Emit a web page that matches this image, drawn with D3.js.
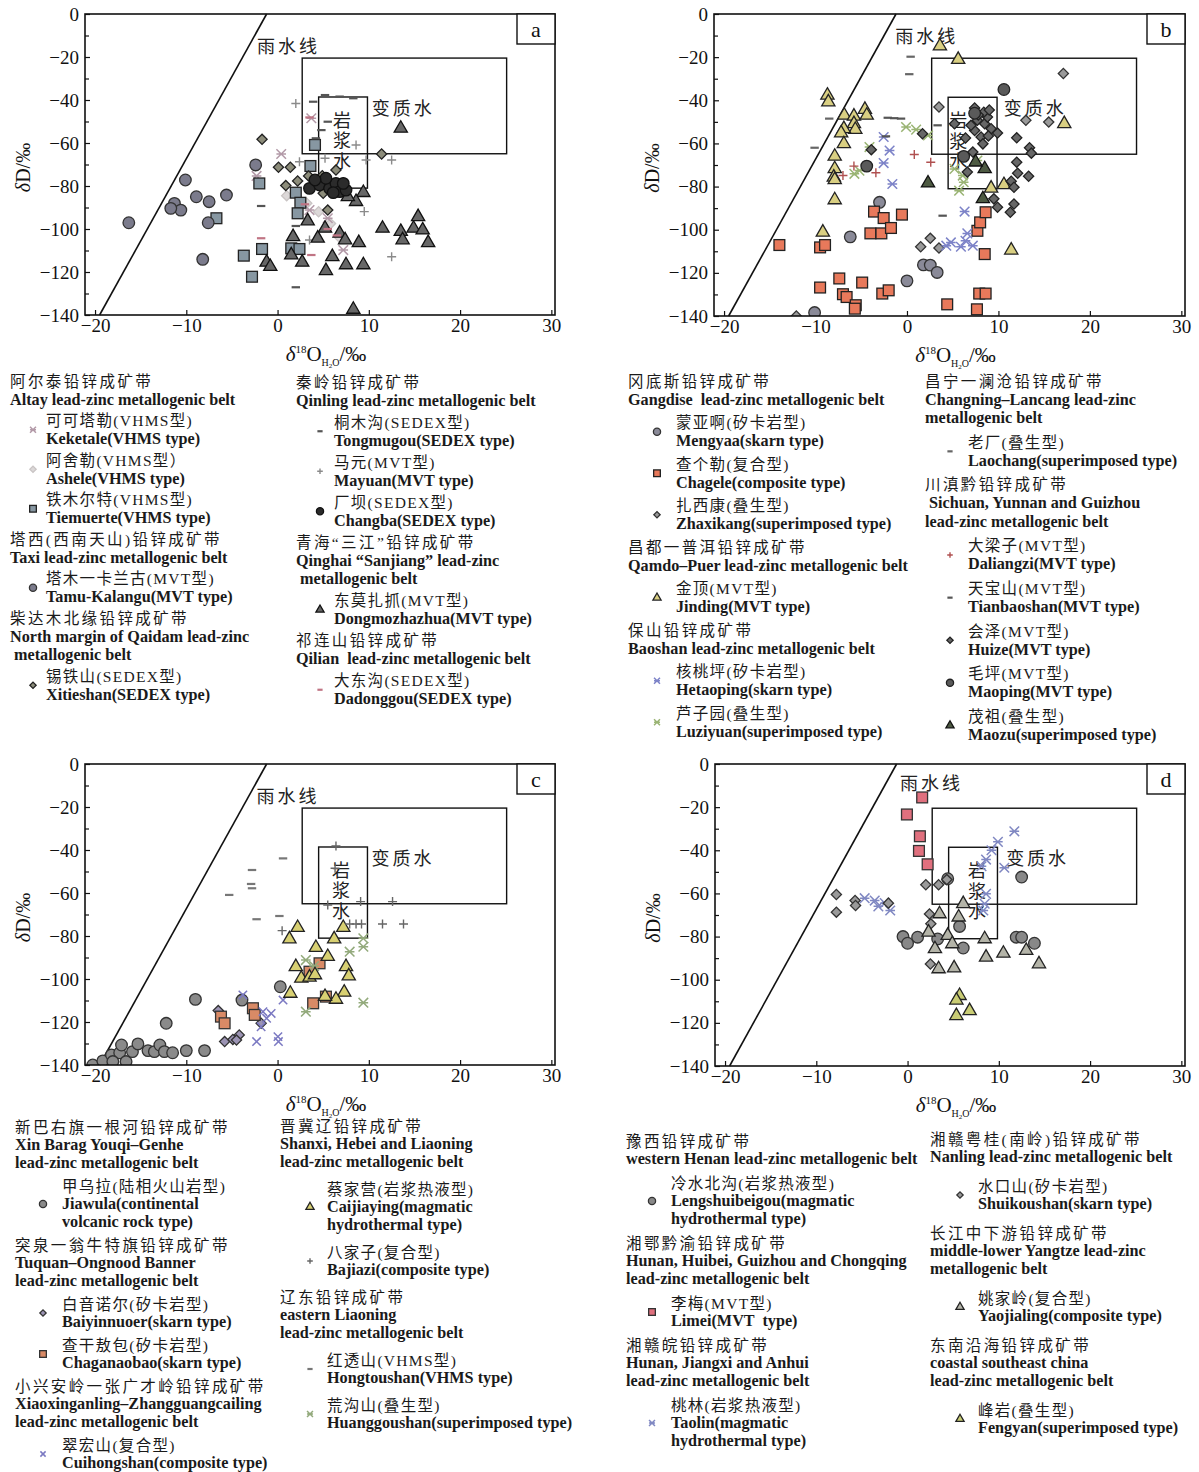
<!DOCTYPE html>
<html><head><meta charset="utf-8">
<script src="https://cdn.jsdelivr.net/npm/d3@7"></script>
<style>body{margin:0;background:#fff}svg{display:block}</style>
</head><body><svg id="chart" width="1199" height="1472"></svg>
<script>
// ---------- axes ----------
const xTickValues = [-20, -10, 0, 10, 20, 30];
const xTickLabels = ['−20', '−10', '0', '10', '20', '30'];
const yTickValues = [0, -20, -40, -60, -80, -100, -120, -140];
const yTickLabels = ['0', '−20', '−40', '−60', '−80', '−100', '−120', '−140'];
const yMinorTickValues = [-10, -30, -50, -70, -90, -110, -130];
const xDomain = [-21.1, 30.4];
const yDomain = [-140, 0];

// ---------- reference fields ----------
const meteoricLine = [[-19.5, -140], [-1.2, 0]];
const metamorphicBox = [2.7, 25.1, -65, -20.5];
const magmaticBox = [4.5, 9.85, -81, -38.6];
const panelLetters = ['a', 'b', 'c', 'd'];

// ---------- panel a ----------
const keketale = [[0.4,-65.1],[3.7,-48.5],[-2.3,-75.3],[3.5,-91.2],[7.2,-109.8],[5.5,-95]];
const ashele = [[5.8,-97.5],[3.2,-88],[6.8,-104],[1.0,-84.5],[4.5,-92]];
const tiemuerte = [[-6.7,-95],[-2.0,-78.8],[-3.7,-112.4],[-1.7,-109.3],[-2.8,-122.2],[2.0,-83.1],[2.5,-87.8],[2.2,-92.7],[3.6,-70.7],[4.1,-60.9],[1.5,-109],[2.4,-109.3]];
const tamuKalangu = [[-16.3,-97.1],[-10.1,-77.2],[-11.3,-88.1],[-10.6,-91.2],[-11.7,-90.4],[-8.9,-85],[-7.5,-87.3],[-5.6,-84.2],[-7.6,-97.1],[-8.2,-114.1],[-2.4,-70.2]];
const xitieshan = [[-1.7,-58.3],[0.1,-71.3],[1.4,-71.3],[0.9,-79.8],[2.2,-77.7],[3.4,-75.3],[4.9,-75.2],[6.4,-72.6],[5.0,-83.4],[5.5,-91.2],[11.4,-65.1]];
const tongmugou = [[5.2,-37.7],[6.8,-38.4],[8.3,-39.2],[3.9,-40.8],[5.5,-50.1],[4.8,-54],[4.2,-57.8],[-1.8,-89.3],[2.0,-127.1],[2.0,-98.6]];
const mayuan = [[2.0,-41.6],[8.6,-60.9],[5.2,-67.1],[9.7,-67.9],[12.5,-67.9],[2.4,-68.7],[9.5,-91.9],[12.5,-112.9],[3.5,-105.1]];
const changba = [[3.5,-81.1],[4.6,-79.5],[5.7,-81.1],[6.4,-78.8],[6.8,-82.6],[7.5,-81.9],[5.3,-76.4],[4.1,-77.2],[6.1,-83.1],[7.2,-78.8]];
const dongmozhazhua = [[13.5,-53.2],[9.4,-83.1],[8.6,-87.3],[7.7,-85],[11.5,-99.7],[13.5,-101.2],[13.7,-105.1],[14.9,-99.7],[15.4,-94.3],[15.9,-100.5],[16.5,-106.4],[3.3,-96.3],[5.2,-99.7],[6.8,-102],[7.4,-105.1],[8.9,-106.4],[1.7,-103.6],[2.7,-115.5],[-1.2,-115.5],[-0.8,-117.5],[1.5,-112.1],[5.3,-119.4],[7.5,-116.7],[9.4,-116.7],[6.0,-112.9],[8.3,-137.4],[4.4,-104.3]];
const dadonggou = [[3.5,-48.1],[-1.8,-104.3],[3.7,-112.1],[5.5,-100],[3.0,-88.5],[6.5,-103]];

// ---------- panel b ----------
const mengyaa = [[-6.2,-103.3],[-3.0,-87.3],[1.8,-116.3],[2.55,-116.4],[3.3,-119.8],[0,-123.7],[-10.1,-138.4]];
const chagele = [[-13.95,-107.1],[-9.5,-108.2],[-8.96,-107.1],[-9.5,-126.8],[-7.4,-122.6],[-7.0,-129.9],[-6.6,-131.2],[-5.6,-135],[-5.7,-136.6],[-4.9,-124.5],[-4.0,-101.7],[-2.8,-101.7],[-3.6,-91.6],[-2.55,-94.6],[-1.75,-99.2],[-0.55,-93],[-2.7,-129.6],[-2.0,-128.1],[4.4,-134.6],[7.65,-136.9],[7.9,-129.6],[8.6,-129.6],[7.7,-100.5],[8.0,-96.6],[8.6,-91.9],[8.5,-111.3]];
const zhaxikang = [[3.5,-43.1],[1.5,-107.9],[2.55,-104],[3.5,-108.5],[-12.1,-140],[17.1,-27.6],[13.0,-49.3],[15.5,-50.1]];
const jinding = [[-8.7,-37.7],[-8.6,-40.8],[-6.85,-47],[-5.8,-47.4],[-4.6,-44.3],[-4.4,-47],[-5.8,-50.9],[-5.65,-53.6],[-6.9,-53.2],[-7.2,-55.2],[-6.9,-60.2],[-7.9,-66],[-7.9,-71.8],[-8.0,-75.7],[-7.9,-76.9],[-7.9,-86.2],[-9.2,-101.2],[3.6,-14.9],[5.6,-21.1],[17.2,-50.9],[11.4,-109.5],[9.2,-80.8],[10.6,-79.2]];
const hetaoping = [[-1.9,-63.3],[-2.55,-69.1],[-1.6,-78.8],[6.3,-91.6],[4.3,-107.4],[4.8,-105.9],[6.4,-105.1],[7.2,-107.4],[5.9,-107.9],[6.6,-101.7],[-2.55,-57]];
const luziyuan = [[-5.75,-74.1],[-5.2,-72.6],[-4.1,-61.7],[-0.1,-52.4],[1.0,-53.6],[2.3,-56.3],[5.2,-71.8],[6.1,-74.9],[5.7,-81.9],[7.7,-67.9],[6.2,-78]];
const laochang = [[0.4,-19.8],[0.25,-27.9],[-10.1,-62],[-8.5,-48.5]];
const daliangzi = [[-5.8,-70.5],[-3.4,-73.6],[0.8,-65.1],[2.6,-68.7],[-7.0,-74.9]];
const tianbaoshan = [[-2.1,-48.1],[-0.65,-48.5],[3.35,-51.6],[3.9,-93.5],[-2.3,-56.7],[-1.4,-48.3]];
const huize = [[9.9,-55.2],[12.0,-57.4],[13.4,-62],[13.6,-64.5],[12.0,-68.7],[12.1,-73.8],[13.3,-75.2],[11.4,-77.5],[11.7,-80.3],[9.5,-85.7],[9.9,-89.6],[11.7,-88.1],[11.3,-91.9],[7.4,-43.6],[7.7,-49.3],[8.5,-50.9],[7.4,-54],[8.1,-57],[8.8,-47.8],[9.2,-53.2],[7.0,-51.6],[8.3,-60.2],[7.2,-64],[6.6,-73.3],[5.2,-50.9],[-3.9,-62.9],[1.7,-55.5],[8.4,-45.5],[9.0,-44.5],[7.8,-46.8],[8.9,-56.5],[6.4,-57.5]];
const maoping = [[-4.4,-70.5],[10.6,-35],[7.4,-46],[6.2,-66]];
const maozu = [[2.3,-78.4],[8.3,-85.7],[8.5,-71.8],[7.5,-68.7]];

// ---------- panel c ----------
const jiawula = [[-20.25,-140],[-19.15,-138.1],[-18.2,-135.3],[-17.3,-134.3],[-17.1,-130.7],[-18.05,-138.4],[-16.6,-138.4],[-15.9,-133.8],[-15.3,-130.2],[-14.2,-133.3],[-13.5,-133.8],[-12.9,-130.7],[-12.4,-133.8],[-11.5,-134.3],[-12.2,-120.6],[-10.0,-133.3],[-8.0,-133.3],[-9.0,-109.5],[-3.9,-109.8],[0.3,-103.6]];
const baiyinnuoer = [[-5.8,-129.1],[-4.9,-128.1],[-4.2,-126],[-4.5,-128.4],[-6.5,-114.7],[-1.8,-120.6]];
const chaganaobao = [[-6.2,-117.5],[-5.8,-120.6],[-2.7,-113.6],[-2.5,-116.7],[3.9,-111.3],[5.3,-108.2],[4.6,-92.7],[3.5,-96.6]];
const cuihongshan = [[-3.8,-107.4],[-2.3,-129.1],[0.04,-126.8],[0.1,-129.1],[-0.7,-116],[-1.2,-118.3],[-1.8,-122.2],[0.6,-109.8],[-1.6,-115.2]];
const caijiaying = [[2.2,-76.1],[1.3,-81.4],[4.2,-85.4],[5.5,-89.6],[6.2,-81.4],[7.2,-76.1],[2.0,-94.3],[2.6,-99.7],[3.5,-99.2],[4.1,-98.1],[7.5,-94.3],[7.8,-98.6],[1.4,-106.7],[7.3,-106.2],[6.4,-109.5],[5.2,-108.2]];
const bajiazi = [[6.4,-38.1],[6.3,-48.5],[5.5,-65.6],[9.1,-64],[12.6,-64],[0.5,-77.5],[7.9,-74.4],[9.2,-74.4],[11.5,-74.4],[13.8,-74.4],[8.6,-74.4]];
const hongtoushan = [[0.6,-43.9],[-2.8,-49.3],[-2.9,-55.8],[-2.8,-57.8],[-5.3,-60.9],[-2.3,-72.2],[0.2,-70.7]];
const huanggoushan = [[7.9,-87.3],[9.4,-85],[9.4,-81.1],[9.4,-111],[3.1,-115.2],[3.1,-91.2],[4.0,-94]];

// ---------- panel d ----------
const lengshuibeigou = [[12.5,-52.4],[-0.5,-80],[0,-83.1],[1.1,-80.3],[3.3,-81.1],[5.7,-75.3],[6.1,-85.3],[11.9,-80.3],[12.5,-80.3],[13.9,-83.1],[4.4,-53.2]];
const limei = [[1.6,-15.5],[-0.07,-23.4],[1.35,-33.5],[1.25,-40.3],[2.2,-46.5]];
const taolin = [[-4.7,-62.2],[-3.6,-63.3],[-3.2,-66],[-2.5,-64.5],[-1.9,-67.9],[11.7,-31.2],[9.9,-36.1],[9.2,-40],[8.6,-44.3],[8.1,-47.4],[10.6,-48.1],[8.6,-60.2],[8.45,-64.8],[8.3,-67.9]];
const shuikoushan = [[-7.8,-60.5],[-7.8,-68.7],[-5.75,-63.3],[-5.7,-65.6],[-2.1,-64.5],[2.0,-56],[3.4,-56],[4.3,-53.6],[2.4,-69.5],[2.55,-74.1],[2.5,-92.7]];
const yaojialing = [[3.5,-69.5],[2.3,-78],[4.4,-79.5],[4.9,-83.4],[3.0,-85.7],[3.4,-95],[5.1,-94.6],[6.1,-64.8],[5.6,-71],[8.45,-81.1],[8.6,-89.6],[10.5,-87.8],[13.0,-86.5],[14.4,-92.7]];
const fengyan = [[5.7,-107.4],[5.35,-109.5],[5.35,-116.7],[6.8,-114.4]];

// ---------- legend texts ----------
const legendA1 = [
  {key:null, lines:['阿尔泰铅锌成矿带','Altay lead-zinc metallogenic belt']},
  {key:'keketale', lines:['可可塔勒(VHMS型)','Keketale(VHMS type)']},
  {key:'ashele', lines:['阿舍勒(VHMS型）','Ashele(VHMS type)']},
  {key:'tiemuerte', lines:['铁木尔特(VHMS型)','Tiemuerte(VHMS type)']},
  {key:null, lines:['塔西(西南天山)铅锌成矿带','Taxi lead-zinc metallogenic belt']},
  {key:'tamuKalangu', lines:['塔木一卡兰古(MVT型)','Tamu-Kalangu(MVT type)']},
  {key:null, lines:['柴达木北缘铅锌成矿带','North margin of Qaidam lead-zinc',' metallogenic belt']},
  {key:'xitieshan', lines:['锡铁山(SEDEX型)','Xitieshan(SEDEX type)']}
];
const legendA2 = [
  {key:null, lines:['秦岭铅锌成矿带','Qinling lead-zinc metallogenic belt']},
  {key:'tongmugou', lines:['桐木沟(SEDEX型)','Tongmugou(SEDEX type)']},
  {key:'mayuan', lines:['马元(MVT型)','Mayuan(MVT type)']},
  {key:'changba', lines:['厂坝(SEDEX型)','Changba(SEDEX type)']},
  {key:null, lines:['青海“三江”铅锌成矿带','Qinghai “Sanjiang” lead-zinc',' metallogenic belt']},
  {key:'dongmozhazhua', lines:['东莫扎抓(MVT型)','Dongmozhazhua(MVT type)']},
  {key:null, lines:['祁连山铅锌成矿带','Qilian  lead-zinc metallogenic belt']},
  {key:'dadonggou', lines:['大东沟(SEDEX型)','Dadonggou(SEDEX type)']}
];
const legendB1 = [
  {key:null, lines:['冈底斯铅锌成矿带','Gangdise  lead-zinc metallogenic belt']},
  {key:'mengyaa', lines:['蒙亚啊(矽卡岩型)','Mengyaa(skarn type)']},
  {key:'chagele', lines:['查个勒(复合型)','Chagele(composite type)']},
  {key:'zhaxikang', lines:['扎西康(叠生型)','Zhaxikang(superimposed type)']},
  {key:null, lines:['昌都一普洱铅锌成矿带','Qamdo–Puer lead-zinc metallogenic belt']},
  {key:'jinding', lines:['金顶(MVT型)','Jinding(MVT type)']},
  {key:null, lines:['保山铅锌成矿带','Baoshan lead-zinc metallogenic belt']},
  {key:'hetaoping', lines:['核桃坪(矽卡岩型)','Hetaoping(skarn type)']},
  {key:'luziyuan', lines:['芦子园(叠生型)','Luziyuan(superimposed type)']}
];
const legendB2 = [
  {key:null, lines:['昌宁一澜沧铅锌成矿带','Changning–Lancang lead-zinc','metallogenic belt']},
  {key:'laochang', lines:['老厂(叠生型)','Laochang(superimposed type)']},
  {key:null, lines:['川滇黔铅锌成矿带',' Sichuan, Yunnan and Guizhou','lead-zinc metallogenic belt']},
  {key:'daliangzi', lines:['大梁子(MVT型)','Daliangzi(MVT type)']},
  {key:'tianbaoshan', lines:['天宝山(MVT型)','Tianbaoshan(MVT type)']},
  {key:'huize', lines:['会泽(MVT型)','Huize(MVT type)']},
  {key:'maoping', lines:['毛坪(MVT型)','Maoping(MVT type)']},
  {key:'maozu', lines:['茂祖(叠生型)','Maozu(superimposed type)']}
];
const legendC1 = [
  {key:null, lines:['新巴右旗一根河铅锌成矿带','Xin Barag Youqi–Genhe','lead-zinc metallogenic belt']},
  {key:'jiawula', lines:['甲乌拉(陆相火山岩型)','Jiawula(continental','volcanic rock type)']},
  {key:null, lines:['突泉一翁牛特旗铅锌成矿带','Tuquan–Ongnood Banner','lead-zinc metallogenic belt']},
  {key:'baiyinnuoer', lines:['白音诺尔(矽卡岩型)','Baiyinnuoer(skarn type)']},
  {key:'chaganaobao', lines:['查干敖包(矽卡岩型)','Chaganaobao(skarn type)']},
  {key:null, lines:['小兴安岭一张广才岭铅锌成矿带','Xiaoxinganling–Zhangguangcailing','lead-zinc metallogenic belt']},
  {key:'cuihongshan', lines:['翠宏山(复合型)','Cuihongshan(composite type)']}
];
const legendC2 = [
  {key:null, lines:['晋冀辽铅锌成矿带','Shanxi, Hebei and Liaoning','lead-zinc metallogenic belt']},
  {key:'caijiaying', lines:['蔡家营(岩浆热液型)','Caijiaying(magmatic','hydrothermal type)']},
  {key:'bajiazi', lines:['八家子(复合型)','Bajiazi(composite type)']},
  {key:null, lines:['辽东铅锌成矿带','eastern Liaoning','lead-zinc metallogenic belt']},
  {key:'hongtoushan', lines:['红透山(VHMS型)','Hongtoushan(VHMS type)']},
  {key:'huanggoushan', lines:['荒沟山(叠生型)','Huanggoushan(superimposed type)']}
];
const legendD1 = [
  {key:null, lines:['豫西铅锌成矿带','western Henan lead-zinc metallogenic belt']},
  {key:'lengshuibeigou', lines:['冷水北沟(岩浆热液型)','Lengshuibeigou(magmatic','hydrothermal type)']},
  {key:null, lines:['湘鄂黔渝铅锌成矿带','Hunan, Huibei, Guizhou and Chongqing','lead-zinc metallogenic belt']},
  {key:'limei', lines:['李梅(MVT型)','Limei(MVT  type)']},
  {key:null, lines:['湘赣皖铅锌成矿带','Hunan, Jiangxi and Anhui','lead-zinc metallogenic belt']},
  {key:'taolin', lines:['桃林(岩浆热液型)','Taolin(magmatic','hydrothermal type)']}
];
const legendD2 = [
  {key:null, lines:['湘赣粤桂(南岭)铅锌成矿带','Nanling lead-zinc metallogenic belt']},
  {key:'shuikoushan', lines:['水口山(矽卡岩型)','Shuikoushan(skarn type)']},
  {key:null, lines:['长江中下游铅锌成矿带','middle-lower Yangtze lead-zinc','metallogenic belt']},
  {key:'yaojialing', lines:['姚家岭(复合型)','Yaojialing(composite type)']},
  {key:null, lines:['东南沿海铅锌成矿带','coastal southeast china','lead-zinc metallogenic belt']},
  {key:'fengyan', lines:['峰岩(叠生型)','Fengyan(superimposed type)']}
];

// ---------- styles ----------
const STY = {
  keketale:{shape:'asterisk', stroke:'#b39aa8', fill:'none'},
  ashele:{shape:'diamond', stroke:'#c9c4c4', fill:'#dcd8d8'},
  tiemuerte:{shape:'square', stroke:'#222', fill:'#8797a2'},
  tamuKalangu:{shape:'circle', stroke:'#333', fill:'#7b7b8c'},
  xitieshan:{shape:'diamond', stroke:'#222', fill:'#8c8c7a'},
  tongmugou:{shape:'dash', stroke:'#555'},
  mayuan:{shape:'plus', stroke:'#8a8a8a'},
  changba:{shape:'circle', stroke:'#111', fill:'#2b2b2b'},
  dongmozhazhua:{shape:'triangle', stroke:'#111', fill:'#676767'},
  dadonggou:{shape:'dash', stroke:'#c07484'},
  mengyaa:{shape:'circle', stroke:'#333', fill:'#8a8a98'},
  chagele:{shape:'square', stroke:'#222', fill:'#e8795b'},
  zhaxikang:{shape:'diamond', stroke:'#333', fill:'#9a9a9a'},
  jinding:{shape:'triangle', stroke:'#222', fill:'#d9cf82'},
  hetaoping:{shape:'asterisk', stroke:'#7d83c8'},
  luziyuan:{shape:'asterisk', stroke:'#9ab474'},
  laochang:{shape:'dash', stroke:'#666'},
  daliangzi:{shape:'plus', stroke:'#b05050'},
  tianbaoshan:{shape:'dash', stroke:'#555'},
  huize:{shape:'diamond', stroke:'#222', fill:'#676767'},
  maoping:{shape:'circle', stroke:'#222', fill:'#5a5a5a'},
  maozu:{shape:'triangle', stroke:'#111', fill:'#4d5a42'},
  jiawula:{shape:'circle', stroke:'#333', fill:'#8a8a8a'},
  baiyinnuoer:{shape:'diamond', stroke:'#333', fill:'#9c94b4'},
  chaganaobao:{shape:'square', stroke:'#333', fill:'#d98a66'},
  cuihongshan:{shape:'x', stroke:'#7b79c2'},
  caijiaying:{shape:'triangle', stroke:'#222', fill:'#d8d072'},
  bajiazi:{shape:'plus', stroke:'#666'},
  hongtoushan:{shape:'dash', stroke:'#777'},
  huanggoushan:{shape:'asterisk', stroke:'#93aa7c'},
  lengshuibeigou:{shape:'circle', stroke:'#333', fill:'#888'},
  limei:{shape:'square', stroke:'#333', fill:'#e0707e'},
  taolin:{shape:'asterisk', stroke:'#8088c2'},
  shuikoushan:{shape:'diamond', stroke:'#333', fill:'#9a9a9a'},
  yaojialing:{shape:'triangle', stroke:'#222', fill:'#b4b4a8'},
  fengyan:{shape:'triangle', stroke:'#222', fill:'#c9cc74'}
};
const DATA = {keketale, ashele, tiemuerte, tamuKalangu, xitieshan, tongmugou, mayuan, changba, dongmozhazhua, dadonggou,
  mengyaa, chagele, zhaxikang, jinding, hetaoping, luziyuan, laochang, daliangzi, tianbaoshan, huize, maoping, maozu,
  jiawula, baiyinnuoer, chaganaobao, cuihongshan, caijiaying, bajiazi, hongtoushan, huanggoushan,
  lengshuibeigou, limei, taolin, shuikoushan, yaojialing, fengyan};

const svg = d3.select('#chart');
const SERIF = '"Liberation Serif","Times New Roman",serif';
const CJK = '"Noto Sans CJK SC","Noto Sans CJK JP",sans-serif';

function marker(g, key, cx, cy, k) {
  const st = STY[key];
  const gg = g.append('g').attr('transform', `translate(${cx},${cy})`);
  const sw = 1.3;
  switch (st.shape) {
    case 'circle':
      gg.append('circle').attr('r', 5.8 * k).attr('fill', st.fill).attr('stroke', st.stroke).attr('stroke-width', sw); break;
    case 'square':
      gg.append('rect').attr('x', -5.4 * k).attr('y', -5.4 * k).attr('width', 10.8 * k).attr('height', 10.8 * k)
        .attr('fill', st.fill).attr('stroke', st.stroke).attr('stroke-width', sw); break;
    case 'triangle':
      gg.append('path').attr('d', d3.symbol(d3.symbolTriangle, 76 * k * k)()).attr('fill', st.fill).attr('stroke', st.stroke).attr('stroke-width', sw); break;
    case 'diamond':
      gg.append('path').attr('d', d3.symbol(d3.symbolSquare, 52 * k * k)()).attr('transform', 'rotate(45)')
        .attr('fill', st.fill).attr('stroke', st.stroke).attr('stroke-width', sw); break;
    case 'plus': {
      const r = 4.5 * k;
      gg.append('path').attr('d', `M${-r},0H${r}M0,${-r}V${r}`).attr('stroke', st.stroke).attr('stroke-width', 1.4); break; }
    case 'dash': {
      const r = 4.2 * k;
      gg.append('path').attr('d', `M${-r},0H${r}`).attr('stroke', st.stroke).attr('stroke-width', 2.2); break; }
    case 'x': {
      const r = 4.2 * k;
      gg.append('path').attr('d', `M${-r},${-r}L${r},${r}M${-r},${r}L${r},${-r}`).attr('stroke', st.stroke).attr('stroke-width', 1.5); break; }
    case 'asterisk': {
      const r = 4.8 * k;
      gg.append('path').attr('d', `M${-r},${-r}L${r},${r}M${-r},${r}L${r},${-r}M${-r},0H${r}`)
        .attr('stroke', st.stroke).attr('stroke-width', 1.5); break; }
  }
}

const panels = [
  {letter:'a', left:85, right:555, top:14, bottom:315, series:['ashele','keketale','tiemuerte','tamuKalangu','xitieshan','tongmugou','mayuan','dongmozhazhua','changba','dadonggou'],
   rain:[-2.26,-14.4], meta:[10.33,-43.3], magma:7.05},
  {letter:'b', left:714, right:1185, top:14, bottom:316, series:['mengyaa','chagele','zhaxikang','jinding','hetaoping','luziyuan','laochang','daliangzi','tianbaoshan','huize','maoping','maozu'],
   rain:[-1.28,-9.8], meta:[10.59,-43.1], magma:5.62},
  {letter:'c', left:85, right:555, top:764, bottom:1065, series:['jiawula','baiyinnuoer','chaganaobao','cuihongshan','huanggoushan','caijiaying','bajiazi','hongtoushan'],
   rain:[-2.3,-14.4], meta:[10.3,-43.1], magma:6.95},
  {letter:'d', left:715, right:1185, top:764, bottom:1066, series:['lengshuibeigou','limei','taolin','shuikoushan','yaojialing','fengyan'],
   rain:[-0.84,-8.2], meta:[10.8,-43.1], magma:7.6}
];

panels.forEach(p => {
  const x = d3.scaleLinear().domain(xDomain).range([p.left, p.right]);
  const y = d3.scaleLinear().domain(yDomain).range([p.bottom, p.top]);
  const g = svg.append('g');
  const clipId = 'clip' + p.letter;
  svg.append('clipPath').attr('id', clipId).append('rect')
    .attr('x', p.left).attr('y', p.top).attr('width', p.right - p.left).attr('height', p.bottom - p.top);

  // axes (inward ticks)
  const yAx = d3.axisLeft(y).tickValues(yTickValues).tickFormat((d, i) => yTickLabels[i]).tickSizeInner(-5).tickSizeOuter(0).tickPadding(6);
  const yAxMinor = d3.axisLeft(y).tickValues(yMinorTickValues).tickFormat('').tickSizeInner(-4).tickSizeOuter(0);
  const xAx = d3.axisBottom(x).tickValues(xTickValues).tickFormat((d, i) => xTickLabels[i]).tickSizeInner(-5).tickSizeOuter(0).tickPadding(4);
  [g.append('g').attr('transform', `translate(${p.left},0)`).call(yAx),
   g.append('g').attr('transform', `translate(${p.left},0)`).call(yAxMinor),
   g.append('g').attr('transform', `translate(0,${p.bottom})`).call(xAx)].forEach(a => {
    a.select('.domain').remove();
    a.selectAll('line').attr('stroke', '#111').attr('stroke-width', 1.2);
    a.selectAll('text').attr('fill', '#111').style('font-family', SERIF).style('font-size', '19px');
  });

  // axis titles
  const yt = g.append('text').attr('transform', `translate(${p.left - 55},${(p.top + p.bottom) / 2 + 3}) rotate(-90)`)
    .attr('text-anchor', 'middle').style('font-family', SERIF).style('font-size', '20px').attr('fill', '#111');
  yt.append('tspan').style('font-style', 'italic').text('δ');
  yt.append('tspan').text('D/‰');
  const xt = g.append('text').attr('x', (p.left + p.right) / 2 + 6).attr('y', p.bottom + 46)
    .attr('text-anchor', 'middle').style('font-family', SERIF).style('font-size', '21px').attr('fill', '#111');
  xt.append('tspan').style('font-style', 'italic').text('δ');
  xt.append('tspan').attr('dy', -8).style('font-size', '11px').text('18');
  xt.append('tspan').attr('dy', 8).text('O');
  xt.append('tspan').attr('dy', 5).style('font-size', '10px').text('H');
  xt.append('tspan').attr('dy', 2).style('font-size', '7px').text('2');
  xt.append('tspan').attr('dy', -2).style('font-size', '10px').text('O');
  xt.append('tspan').attr('dy', -5).text('/‰');

  // boxes
  g.append('rect').attr('x', x(metamorphicBox[0])).attr('y', y(metamorphicBox[3]))
    .attr('width', x(metamorphicBox[1]) - x(metamorphicBox[0])).attr('height', y(metamorphicBox[2]) - y(metamorphicBox[3]))
    .attr('fill', 'none').attr('stroke', '#111').attr('stroke-width', 1.4);
  g.append('rect').attr('x', x(magmaticBox[0])).attr('y', y(magmaticBox[3]))
    .attr('width', x(magmaticBox[1]) - x(magmaticBox[0])).attr('height', y(magmaticBox[2]) - y(magmaticBox[3]))
    .attr('fill', 'none').attr('stroke', '#111').attr('stroke-width', 1.4);

  // annotations
  const ann = (t, xx, yy) => g.append('text').attr('x', xx).attr('y', yy).attr('dominant-baseline', 'central')
    .style('font-family', CJK).style('font-size', '18px').style('letter-spacing', '3px').attr('fill', '#222').text(t);
  ann('雨水线', x(p.rain[0]), y(p.rain[1]));
  ann('变质水', x(p.meta[0]), y(p.meta[1]));
  g.append('text').attr('x', x(p.magma)).attr('y', y(-49.3) - 9)
    .style('writing-mode', 'vertical-rl').style('glyph-orientation-vertical', '0')
    .style('font-family', CJK).style('font-size', '18px').style('letter-spacing', '2.5px').attr('fill', '#222').text('岩浆水');

  // meteoric water line
  g.append('line').attr('x1', x(meteoricLine[0][0])).attr('y1', y(meteoricLine[0][1]))
    .attr('x2', x(meteoricLine[1][0])).attr('y2', y(meteoricLine[1][1])).attr('stroke', '#111').attr('stroke-width', 1.6);

  // points
  const pg = g.append('g').attr('clip-path', `url(#${clipId})`);
  p.series.forEach(key => DATA[key].forEach(d => marker(pg, key, x(d[0]), y(d[1]), 1)));

  // frame
  g.append('rect').attr('x', p.left).attr('y', p.top).attr('width', p.right - p.left).attr('height', p.bottom - p.top)
    .attr('fill', 'none').attr('stroke', '#111').attr('stroke-width', 1.6);
  // letter box
  g.append('rect').attr('x', p.right - 38).attr('y', p.top).attr('width', 38).attr('height', 30)
    .attr('fill', '#fff').attr('stroke', '#111').attr('stroke-width', 1.4);
  g.append('text').attr('x', p.right - 19).attr('y', p.top + 15).attr('text-anchor', 'middle').attr('dominant-baseline', 'central')
    .style('font-family', SERIF).style('font-size', '22px').attr('fill', '#111').text(p.letter);
});

// ---------- legends ----------
const legendCols = [
  {items:legendA1, x:10, tx:46, sx:33, y0:381, lh:18.5, gap:2.5},
  {items:legendA2, x:296, tx:334, sx:320, y0:382, lh:18.5, gap:3},
  {items:legendB1, x:628, tx:676, sx:657, y0:381, lh:18.5, gap:4.5},
  {items:legendB2, x:925, tx:968, sx:950, y0:381, lh:18.5, gap:5.6},
  {items:legendC1, x:15, tx:62, sx:43, y0:1127, lh:18, gap:5},
  {items:legendC2, x:280, tx:327, sx:310, y0:1126, lh:18, gap:9},
  {items:legendD1, x:626, tx:671, sx:652, y0:1141, lh:18, gap:6},
  {items:legendD2, x:930, tx:978, sx:960, y0:1139, lh:18, gap:11}
];
const isCJK = s => /[\u4e00-\u9fff]/.test(s);
legendCols.forEach(col => {
  const g = svg.append('g');
  let yy = col.y0;
  col.items.forEach(it => {
    const xx = it.key ? col.tx : col.x;
    const first = yy;
    it.lines.forEach(line => {
      const t = g.append('text').attr('x', xx).attr('y', yy).attr('dominant-baseline', 'central')
        .attr('fill', '#1a1a1a').style('white-space', 'pre');
      if (isCJK(line)) {
        t.style('font-family', `"Liberation Serif",${CJK}`)
          .style('font-size', '15.5px')
          .style('letter-spacing', it.key ? '1.3px' : '2.4px');
      } else {
        t.style('font-family', SERIF).style('font-size', '16.2px').style('font-weight', '600');
      }
      t.text(line);
      yy += col.lh;
    });
    if (it.key) marker(g, it.key, col.sx, (first + yy - col.lh) / 2, 0.62);
    yy += col.gap;
  });
});
</script></body></html>
